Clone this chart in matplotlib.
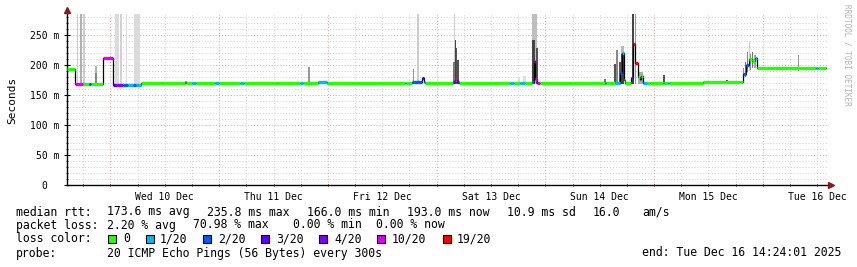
import matplotlib
matplotlib.use("Agg")
import matplotlib.pyplot as plt
from matplotlib.patches import Rectangle

W, H = 857, 267
MONO = "DejaVu Sans Mono"

# ---------------- data ----------------
# time axis: hours since start (Tue Dec 9 14:24:01 2025), 7 days shown
span_hours = 168
first_midnight = 9.6
day_labels = ["Wed 10 Dec", "Thu 11 Dec", "Fri 12 Dec", "Sat 13 Dec",
              "Sun 14 Dec", "Mon 15 Dec", "Tue 16 Dec"]
y_ticks = [0, 50, 100, 150, 200, 250]
y_tick_labels = ["0  ", "50 m", "100 m", "150 m", "200 m", "250 m"]

# median rtt segments (ms) with loss count (of 20 pings)
seg_start = [0, 1.8, 3.5, 4.9, 5.3, 7.9, 10.2, 11.0, 12.4, 13.5, 14.6, 15.2,
             16.3, 26.0, 26.3, 27.6, 28.5, 32.7, 33.6, 38.2, 39.1, 51.4, 52.0,
             55.4, 57.4, 74.6, 74.8, 76.2, 78.4, 78.8, 79.0, 85.2, 85.6, 86.0,
             86.5, 97.8, 98.7, 100.0, 101.1, 102.6, 103.0, 103.4, 103.8, 104.4,
             118.8, 119.0, 121.0, 122.1, 122.5, 123.0, 123.2, 124.5, 124.9,
             125.5, 126.0, 126.4, 126.8, 127.2, 128.0, 128.7, 131.6, 131.9,
             132.6, 133.0, 140.4, 148.6, 149.2, 149.9, 150.6, 151.2, 151.9,
             152.3, 165.3, 165.8]
seg_end = seg_start[1:] + [167.5]
seg_median = [193, 169, 169, 169, 169, 212, 166, 166, 167, 167, 167, 167,
              170, 172, 170, 170, 170, 170, 170, 170, 170, 170, 170,
              171, 170, 170, 170, 172, 178, 172, 170, 172, 175, 171,
              170, 170, 170, 170, 170, 172, 207, 177, 170, 170,
              170, 170, 170, 186, 220, 175, 170, 178, 235,
              203, 180, 177, 182, 170, 170, 170, 170, 170,
              170, 170, 171, 172, 185, 200, 210, 206, 212,
              195, 195, 195]
seg_loss = [0, 10, 0, 2, 0, 10, 3, 4, 2, 1, 2, 1,
            0, 10, 0, 1, 0, 1, 0, 1, 0, 1, 0,
            1, 0, 1, 0, 2, 3, 1, 0, 3, 10, 3,
            0, 1, 0, 1, 0, 2, 10, 10, 10, 0,
            2, 0, 1, 2, 1, 0, 0, 3, 19,
            19, 0, 3, 0, 1, 0, 0, 1, 0,
            1, 0, 0, 0, 2, 2, 0, 0, 1,
            0, 1, 0]

# smoke (ping spread) bars
smoke_t = [2.4, 3.1, 3.75, 6.4, 6.4, 11.0, 11.9, 13.2, 15.5, 53.4, 76.4, 77.5,
           85.4, 85.6, 85.7, 86.0, 86.3, 99.8, 101.0, 103.2, 103.0, 103.7,
           118.8, 121.0, 121.4, 122.1, 122.7, 122.7, 125.0, 125.5, 126.5,
           131.8, 145.7, 149.3, 149.8, 150.3, 150.6, 150.9, 151.4, 151.9, 161.4]
smoke_w = [0.25, 0.25, 0.25, 0.3, 0.3, 0.9, 0.4, 0.3, 1.3, 0.3, 0.25, 0.3,
           0.3, 0.3, 0.3, 0.3, 0.4, 0.6, 0.6, 0.9, 0.7, 0.5,
           0.4, 0.3, 0.3, 0.3, 0.6, 0.6, 0.5, 0.3, 1.1,
           0.3, 0.3, 0.25, 0.25, 0.25, 0.25, 0.25, 0.25, 0.3, 0.25]
smoke_lo = [168] * 33 + [172, 180, 188, 190, 192, 195, 195, 190]
smoke_hi = [285, 285, 285, 198, 186, 285, 285, 285, 285, 197, 193, 285,
            205, 285, 241, 228, 208, 180, 182, 285, 242, 228,
            176, 202, 225, 205, 218, 232, 285, 285, 188,
            183, 175, 195, 205, 222, 238, 218, 222, 216, 217]
smoke_grey = [0.80, 0.69, 0.80, 0.70, 0.53, 0.86, 0.82, 0.86, 0.86, 0.60, 0.60, 0.80,
              0.47, 0.80, 0.27, 0.33, 0.33, 0.87, 0.87, 0.75, 0.27, 0.33,
              0.47, 0.33, 0.53, 0.33, 0.27, 0.73, 0.27, 0.60, 0.67,
              0.33, 0.33, 0.55, 0.45, 0.50, 0.80, 0.55, 0.45, 0.65, 0.60]

loss_levels = [0, 1, 2, 3, 4, 10, 19]
loss_names = ["0", "1/20", "2/20", "3/20", "4/20", "10/20", "19/20"]
loss_colors = ["#26ff00", "#00b8ff", "#0059ff", "#5e00ff", "#7e00ff", "#dd00ff", "#ff0000"]

stats_rtt = ["173.6 ms avg", "235.8 ms max", "166.0 ms min", "193.0 ms now", "10.9 ms sd", "16.0", "am/s"]
stats_loss = ["2.20 % avg", "70.98 % max", "0.00 % min", "0.00 % now"]
probe_text = "20 ICMP Echo Pings (56 Bytes) every 300s"
end_text = "end: Tue Dec 16 14:24:01 2025"

# ---------------- figure ----------------
fig = plt.figure(figsize=(W / 100, H / 100), dpi=100)
ax = fig.add_axes([67 / W, 82 / H, 761 / W, 171 / H])
ax.set_xlim(0, span_hours)
ax.set_ylim(0, 285)

minor_col = "#d0d0d0"
major_col = "#e4a0a0"
dots = (0, (1, 2))
for v in range(10, 290, 10):
    ax.axhline(v, color=major_col if v % 50 == 0 else minor_col,
               lw=0.7, ls=dots, zorder=0)
h = first_midnight - 6
while h < span_hours:
    is_mid = abs(((h - first_midnight) / 24) - round((h - first_midnight) / 24)) < 1e-6
    ax.axvline(h, color=major_col if is_mid else minor_col, lw=0.7, ls=dots, zorder=0)
    h += 6

# smoke, lighter first
order = sorted(range(len(smoke_t)), key=lambda i: -smoke_grey[i])
for i in order:
    ax.bar(smoke_t[i], smoke_hi[i] - smoke_lo[i], width=smoke_w[i],
           bottom=smoke_lo[i], color=str(smoke_grey[i]), lw=0, zorder=1)

# thin black median step line
xs, ys = [], []
for s, e, m in zip(seg_start, seg_end, seg_median):
    xs += [s, e]
    ys += [m, m]
ax.plot(xs, ys, color="black", lw=0.9, zorder=2)

# colored median by loss
cmap = dict(zip(loss_levels, loss_colors))
for s, e, m, l in zip(seg_start, seg_end, seg_median, seg_loss):
    ax.hlines(m, s, e, color=cmap[l], lw=2.4, zorder=3)

# axes styling
for sp in ["top", "right"]:
    ax.spines[sp].set_visible(False)
ax.spines["left"].set_linewidth(1.0)
ax.spines["bottom"].set_linewidth(1.0)
ax.set_yticks(y_ticks)
ax.set_yticklabels(y_tick_labels, fontfamily=MONO, fontsize=7)
ax.set_yticks(range(10, 290, 10), minor=True)
ax.tick_params(axis="y", which="major", direction="inout", length=5, width=0.8, pad=3)
ax.tick_params(axis="y", which="minor", direction="inout", length=2, width=0.6)
noon = [first_midnight + 12 + 24 * k for k in range(len(day_labels))]
ax.set_xticks(noon)
ax.set_xticklabels(day_labels, fontfamily=MONO, fontsize=7)
ax.set_xticks([first_midnight - 6 + 6 * k for k in range(27) if first_midnight - 6 + 6 * k < span_hours], minor=True)
ax.tick_params(axis="x", which="major", direction="inout", length=2, width=0.6, pad=4)
ax.tick_params(axis="x", which="minor", direction="inout", length=2, width=0.6)

# arrows
arrow_col = "#8b1a1a"
ax.plot([0], [1.025], marker="^", ms=4.5, color=arrow_col, transform=ax.transAxes, clip_on=False, zorder=5)
ax.plot([1.004], [0], marker=">", ms=4.5, color=arrow_col, transform=ax.transAxes, clip_on=False, zorder=5)

def fx(px):
    return px / W

def fy(py):
    return 1 - py / H

fig.text(fx(12), fy(100), "Seconds", rotation=90, ha="center", va="center",
         fontsize=8, family=MONO)
fig.text(fx(847), fy(4), "RRDTOOL / TOBI OETIKER", rotation=270, ha="center", va="top",
         fontsize=5.6, family=MONO, color="#b4b4b4")

LF = 8.3
fig.text(fx(16), fy(212), "median rtt:", fontsize=LF, family=MONO, va="center")
for px, t in zip([107, 207, 307, 407, 507, 593, 642], stats_rtt):
    fig.text(fx(px), fy(212), t, fontsize=LF, family=MONO, va="center")
fig.text(fx(16), fy(225), "packet loss:", fontsize=LF, family=MONO, va="center")
for px, t in zip([107, 193, 293, 376], stats_loss):
    fig.text(fx(px), fy(225), t, fontsize=LF, family=MONO, va="center")
fig.text(fx(16), fy(239), "loss color:", fontsize=LF, family=MONO, va="center")
for bx, tx, name, col in zip([108, 146, 203, 261, 319, 377, 443],
                             [123, 160, 218, 276, 334, 392, 457],
                             loss_names, loss_colors):
    fig.patches.append(Rectangle((fx(bx), fy(243)), 8 / W, 8 / H, transform=fig.transFigure,
                                 facecolor=col, edgecolor="black", lw=0.8))
    fig.text(fx(tx), fy(239), name, fontsize=LF, family=MONO, va="center")
fig.text(fx(16), fy(253), "probe:", fontsize=LF, family=MONO, va="center")
fig.text(fx(107), fy(253), probe_text, fontsize=LF, family=MONO, va="center")
fig.text(fx(841), fy(253), end_text, fontsize=LF, family=MONO, va="center", ha="right")

fig.savefig("out.png", dpi=100)
